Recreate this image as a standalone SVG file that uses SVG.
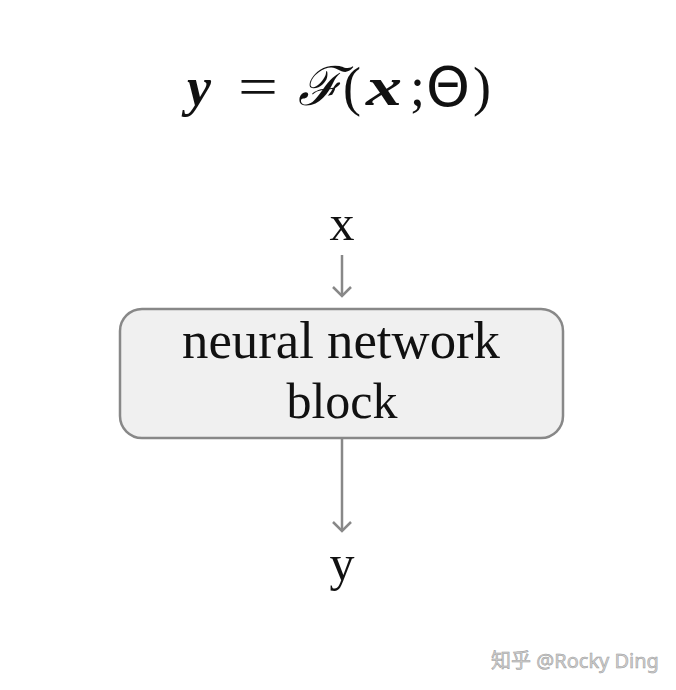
<svg xmlns="http://www.w3.org/2000/svg" width="676" height="690" viewBox="0 0 676 690">
<style>
.t{font-family:"Liberation Serif","DejaVu Serif",serif;font-size:50px;fill:#111;text-anchor:middle}
.eq{font-family:"Liberation Serif","DejaVu Serif",serif;font-size:54px;fill:#111}
.bi{font-weight:bold;font-style:italic}
.c{stroke:#888;stroke-width:2.5;fill:none}
</style>
<defs>
<marker id="ah" viewBox="0 0 20 20" refX="17" refY="10" markerWidth="20" markerHeight="20" markerUnits="userSpaceOnUse" orient="auto">
<path d="M8,1 L17,10 L8,19" fill="none" stroke="#888" stroke-width="2.5"/>
</marker>
</defs>
<rect width="676" height="690" fill="#fff"/>
<g id="equation">
<text class="eq bi" x="187" y="105">y</text>
<text class="eq" x="238" y="105" textLength="40" lengthAdjust="spacingAndGlyphs">=</text>
<text class="eq" x="298" y="105" font-style="italic">ℱ</text>
<text class="eq" x="343" y="105">(</text>
<text class="eq bi" x="366" y="105" textLength="36" lengthAdjust="spacingAndGlyphs">x</text>
<text class="eq" x="410" y="105">;</text>
<text class="eq" x="426" y="106" style="font-family:'DejaVu Sans',sans-serif;font-size:56px" textLength="44" lengthAdjust="spacingAndGlyphs">Θ</text>
<text class="eq" x="473" y="105">)</text>
</g>
<g id="input"><text class="t" x="342" y="240">x</text></g>
<g id="block">
<rect x="120" y="309" width="443" height="129" rx="22" fill="#f0f0f0" stroke="#888" stroke-width="2.5"/>
<text class="t" x="341" y="358" style="font-size:52px" textLength="318" lengthAdjust="spacingAndGlyphs">neural network</text>
<text class="t" x="342" y="418">block</text>
</g>
<g id="output"><text class="t" x="342" y="580">y</text></g>
<g id="connectors">
<line class="c" x1="342" y1="255" x2="342" y2="296" marker-end="url(#ah)"/>
<line class="c" x1="342" y1="438" x2="342" y2="531" marker-end="url(#ah)"/>
</g>
<text x="575" y="668" font-family="'Noto Sans','Noto Sans CJK SC',sans-serif" font-size="20" fill="#d0d0d0" stroke="#999" stroke-width="0.5" text-anchor="middle">知乎 @Rocky Ding</text>
</svg>
